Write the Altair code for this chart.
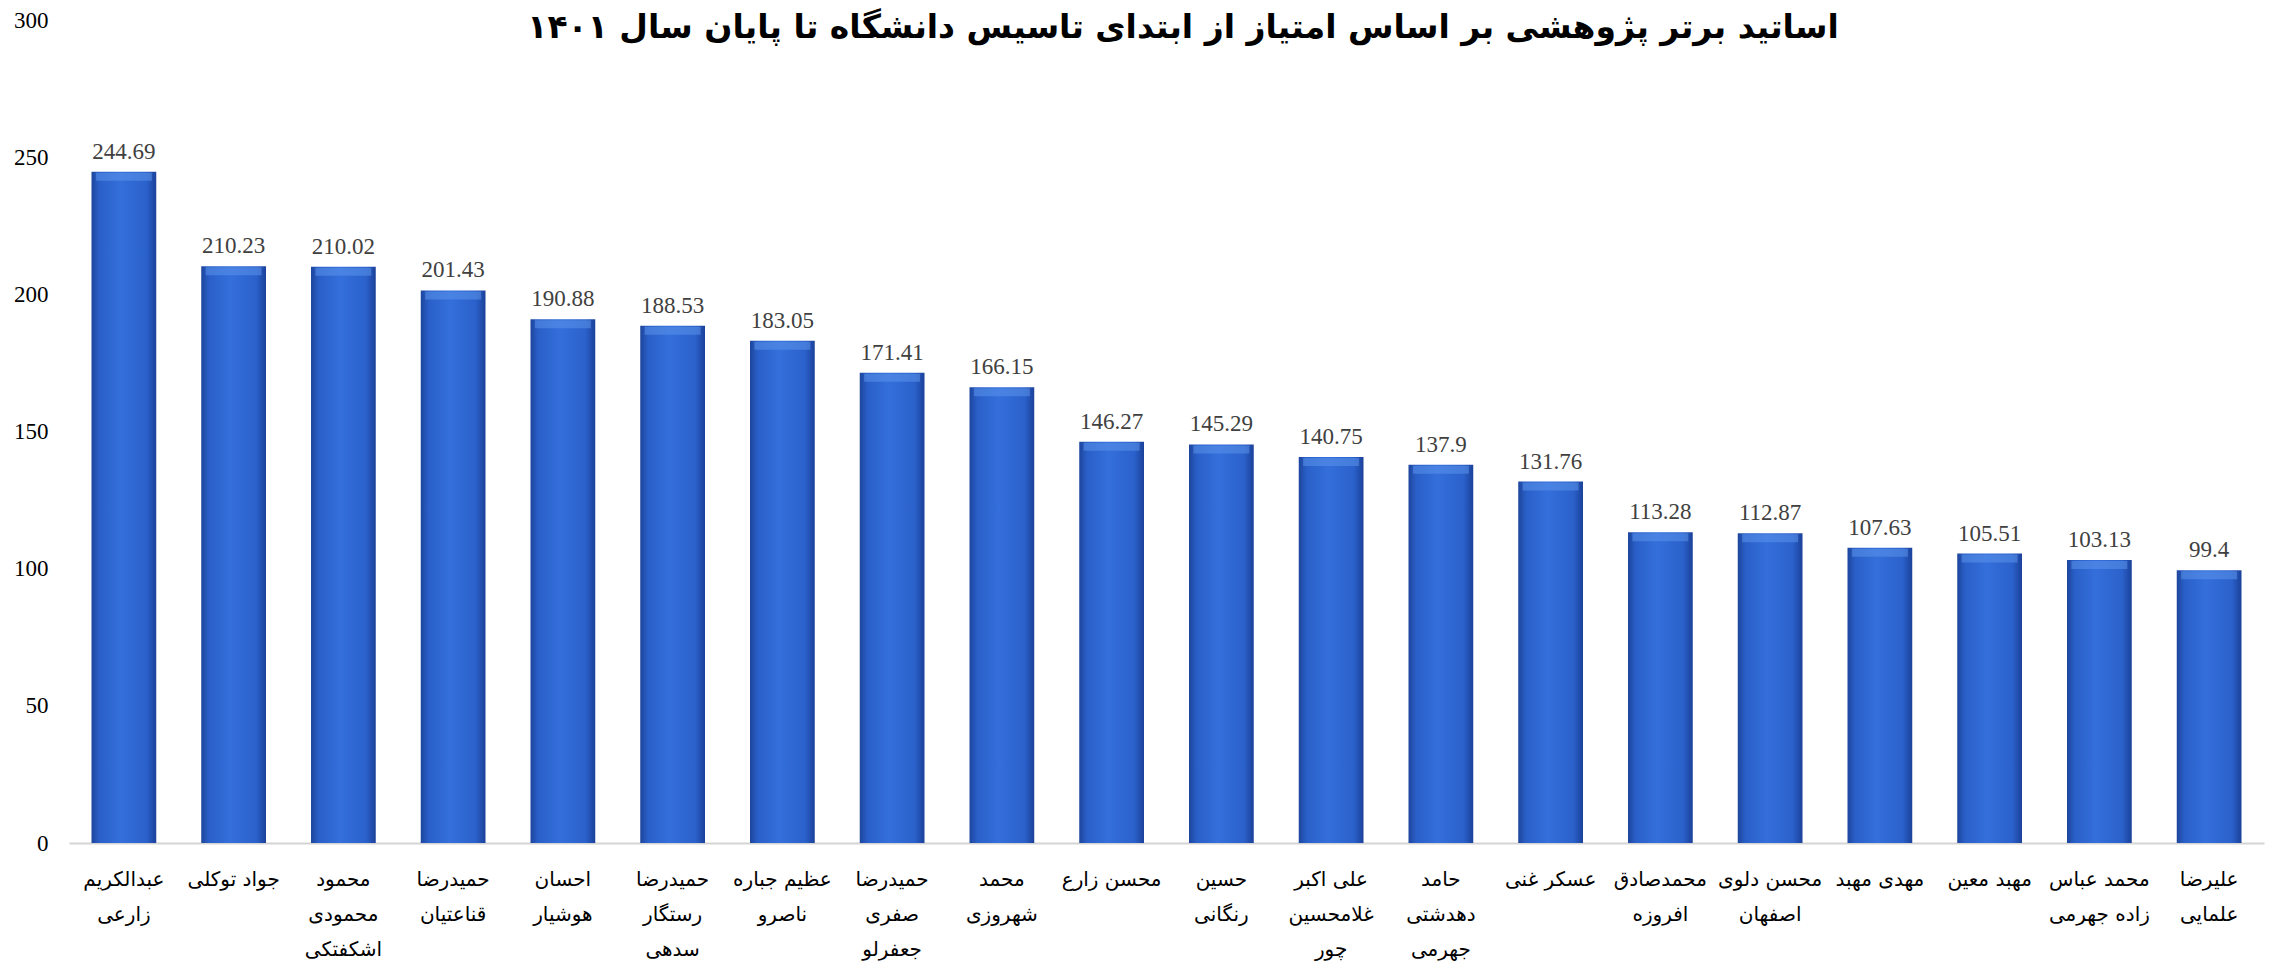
import altair as alt
import pandas as pd

title_text = "اساتید برتر پژوهشی بر اساس امتیاز از ابتدای تاسیس دانشگاه تا پایان سال ۱۴۰۱"

names = [
    "عبدالکریم|زارعی",
    "جواد توکلی",
    "محمود|محمودی|اشکفتکی",
    "حمیدرضا|قناعتیان",
    "احسان|هوشیار",
    "حمیدرضا|رستگار|سدهی",
    "عظیم جباره|ناصرو",
    "حمیدرضا|صفری|جعفرلو",
    "محمد|شهروزی",
    "محسن زارع",
    "حسین|رنگانی",
    "علی اکبر|غلامحسین|چور",
    "حامد|دهدشتی|جهرمی",
    "عسکر غنی",
    "محمدصادق|افروزه",
    "محسن دلوی|اصفهان",
    "مهدی مهبد",
    "مهبد معین",
    "محمد عباس|زاده جهرمی",
    "علیرضا|علمایی",
]
scores = [244.69, 210.23, 210.02, 201.43, 190.88, 188.53, 183.05, 171.41,
          166.15, 146.27, 145.29, 140.75, 137.9, 131.76, 113.28, 112.87,
          107.63, 105.51, 103.13, 99.4]
score_labels = ["244.69", "210.23", "210.02", "201.43", "190.88", "188.53",
                "183.05", "171.41", "166.15", "146.27", "145.29", "140.75",
                "137.9", "131.76", "113.28", "112.87", "107.63", "105.51",
                "103.13", "99.4"]
y_ticks = [0, 50, 100, 150, 200, 250, 300]

df = pd.DataFrame({"name": names, "score": scores, "label": score_labels})
title_df = pd.DataFrame({"t": [title_text]})

W, H = 2195, 823

x_enc = alt.X(
    "name:N", sort=None, title=None,
    scale=alt.Scale(paddingInner=0.41, paddingOuter=0.205),
    axis=alt.Axis(
        labelAngle=0, ticks=False, domain=True, domainColor="#d4d4d4",
        domainWidth=2, labelFont="DejaVu Sans", labelFontSize=20,
        labelColor="#000000", labelPadding=36, labelLineHeight=35,
        labelBaseline="middle",
        labelExpr="split(datum.label, '|')", labelLimit=200,
    ),
)
y_enc = alt.Y(
    "score:Q", title=None,
    scale=alt.Scale(domain=[0, 300], nice=False),
    axis=alt.Axis(
        values=y_ticks, grid=False, ticks=False, domain=False,
        labelFont="Liberation Serif", labelFontSize=23, labelColor="#000000",
        labelPadding=21,
    ),
)

bar_grad = alt.Gradient(
    gradient="linear", x1=0, x2=1, y1=0, y2=0,
    stops=[
        alt.GradientStop(offset=0, color="#1d459c"),
        alt.GradientStop(offset=0.12, color="#2a5fc8"),
        alt.GradientStop(offset=0.45, color="#346fdb"),
        alt.GradientStop(offset=0.85, color="#2b61cb"),
        alt.GradientStop(offset=1, color="#1b419a"),
    ],
)

bars = alt.Chart(df).mark_bar(color=bar_grad).encode(x=x_enc, y=y_enc)

cap = alt.Chart(df).mark_tick(
    color="#5b93ea", thickness=8, size=56, yOffset=5, opacity=0.55
).encode(x=alt.X("name:N", sort=None), y="score:Q")

labels = alt.Chart(df).mark_text(
    font="Liberation Serif", fontSize=23, color="#404040",
    baseline="alphabetic", dy=-13,
).encode(x=alt.X("name:N", sort=None), y="score:Q", text="label:N")

title = alt.Chart(title_df).mark_text(
    font="DejaVu Sans", fontSize=33, fontWeight="bold", color="#000000",
    align="center", baseline="middle",
).encode(x=alt.value(1114), y=alt.value(8), text="t:N")

chart = alt.layer(bars, cap, labels, title).properties(
    width=W, height=H,
    autosize=alt.AutoSizeParams(type="none"),
    padding={"left": 61, "top": 12, "right": 2, "bottom": 133},
).configure_view(stroke=None)

chart.save("out.html", embed_options={"renderer": "svg", "actions": False})
